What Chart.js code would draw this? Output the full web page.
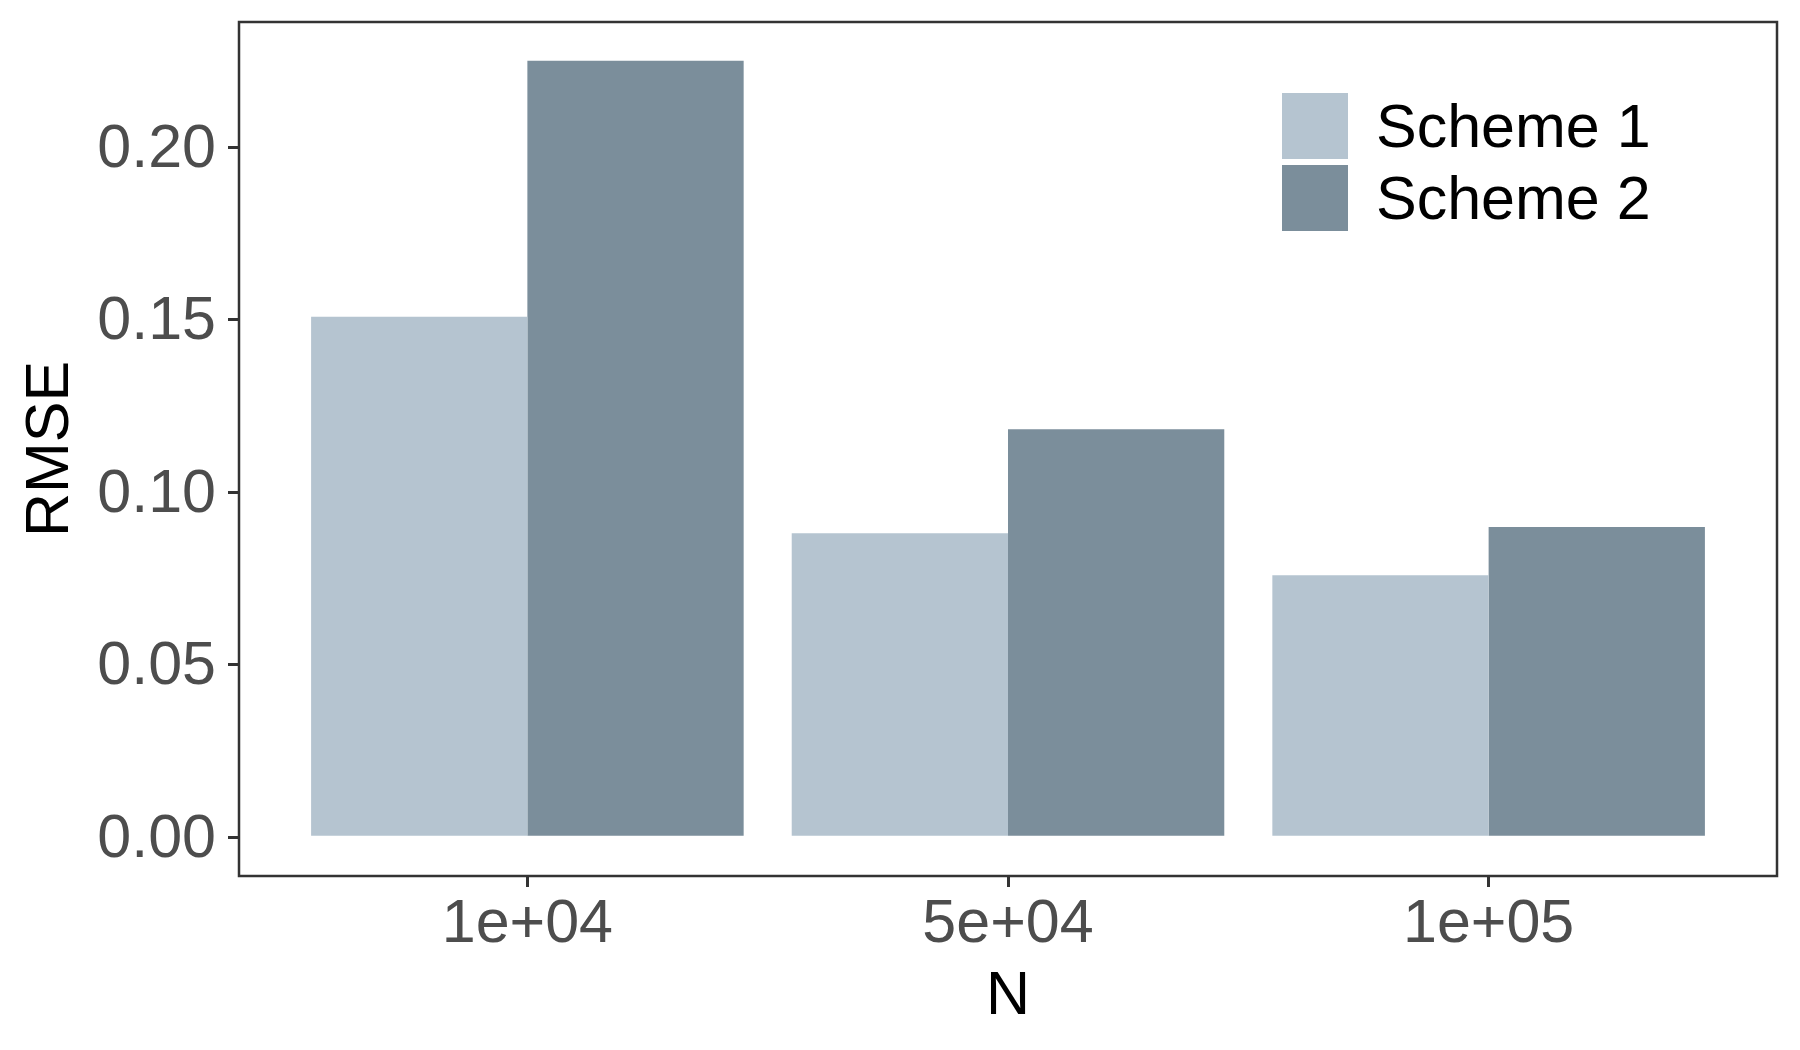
<!DOCTYPE html>
<html>
<head>
<meta charset="utf-8">
<script src="https://cdn.jsdelivr.net/npm/chart.js@4/dist/chart.umd.min.js"></script>
<style>
  html, body { margin: 0; padding: 0; background: #ffffff; }
  #wrap { width: 1800px; height: 1050px; }
</style>
</head>
<body>
<div id="wrap"><canvas id="c" width="1800" height="1050"></canvas></div>
<script>
// ---- data ----
const categories = ["1e+04", "5e+04", "1e+05"];
const seriesNames = ["Scheme 1", "Scheme 2"];
const scheme1 = [0.1508, 0.0881, 0.0759];
const scheme2 = [0.2250, 0.1182, 0.0899];
const yTicks = [0.00, 0.05, 0.10, 0.15, 0.20];
const xTitle = "N";
const yTitle = "RMSE";

// ---- styles ----
const FONT = "Arial, 'Liberation Sans', 'DejaVu Sans', sans-serif";
const FS = 61;
const colors = ["#B5C4D0", "#7B8E9B"];
const axisTextColor = "#4D4D4D";
const lineColor = "#333333";

const catPositions = categories.map((_, i) => i + 1);
const toPoints = arr => arr.map((v, i) => ({ x: catPositions[i], y: v }));

const yMax = Math.max(...scheme1, ...scheme2);
const yPad = yMax * 0.05;

const panelBorder = {
  id: 'panelBorder',
  afterDatasetsDraw(chart) {
    const { ctx, chartArea: a } = chart;
    ctx.save();
    ctx.strokeStyle = lineColor;
    ctx.lineWidth = 2.5;
    ctx.strokeRect(a.left, a.top, a.right - a.left, a.bottom - a.top);
    ctx.restore();
  }
};

const insideLegend = {
  id: 'insideLegend',
  afterDraw(chart) {
    const { ctx } = chart;
    const keyX = 1282, keyTop = 93, keySize = 66, gap = 6, textX = 1376;
    ctx.save();
    ctx.font = FS + "px " + FONT;
    ctx.textBaseline = 'middle';
    ctx.textAlign = 'left';
    chart.data.datasets.forEach((ds, i) => {
      const y = keyTop + i * (keySize + gap);
      ctx.fillStyle = ds.backgroundColor;
      ctx.fillRect(keyX, y, keySize, keySize);
      ctx.fillStyle = '#000000';
      ctx.fillText(ds.label, textX, y + keySize / 2 + 4);
    });
    ctx.restore();
  }
};

function zeroPadding(scale) {
  scale.paddingTop = 0; scale.paddingBottom = 0;
  scale.paddingLeft = 0; scale.paddingRight = 0;
}

new Chart(document.getElementById('c'), {
  type: 'bar',
  data: {
    datasets: [
      { label: seriesNames[0], data: toPoints(scheme1), backgroundColor: colors[0], borderWidth: 0,
        barPercentage: 1, categoryPercentage: 0.9 },
      { label: seriesNames[1], data: toPoints(scheme2), backgroundColor: colors[1], borderWidth: 0,
        barPercentage: 1, categoryPercentage: 0.9 }
    ]
  },
  options: {
    responsive: false,
    devicePixelRatio: 1,
    animation: false,
    layout: { padding: { left: 0, right: 23, top: 22, bottom: 0 } },
    plugins: { legend: { display: false }, tooltip: { enabled: false } },
    scales: {
      x: {
        type: 'linear',
        offset: false,
        min: 0.4,
        max: 3.6,
        afterFit(scale) { scale.height = 174; zeroPadding(scale); },
        afterBuildTicks(scale) { scale.ticks = catPositions.map(v => ({ value: v })); },
        grid: { display: true, offset: false, drawOnChartArea: false, drawTicks: true,
                tickLength: 11, color: lineColor, lineWidth: 3 },
        border: { display: false },
        ticks: {
          autoSkip: false, maxRotation: 0, minRotation: 0, padding: 2,
          color: axisTextColor,
          font: { family: FONT, size: FS, lineHeight: 1.2 },
          callback: (v) => { const i = catPositions.indexOf(v); return i >= 0 ? categories[i] : ''; }
        },
        title: { display: true, text: xTitle, color: '#000000',
                 font: { family: FONT, size: FS, lineHeight: 1.2 },
                 padding: { top: 0, bottom: 16 } }
      },
      y: {
        type: 'linear',
        min: -yPad,
        max: yMax + yPad,
        afterFit(scale) { scale.width = 239; zeroPadding(scale); },
        afterBuildTicks(scale) { scale.ticks = yTicks.map(v => ({ value: v })); },
        grid: { display: true, drawOnChartArea: false, drawTicks: true,
                tickLength: 11, color: lineColor, lineWidth: 3 },
        border: { display: false },
        ticks: {
          padding: 12, labelOffset: 3,
          color: axisTextColor,
          font: { family: FONT, size: FS, lineHeight: 1.2 },
          callback: (v) => Number(v).toFixed(2)
        },
        title: { display: true, text: yTitle, color: '#000000',
                 font: { family: FONT, size: FS, lineHeight: 1.2 },
                 padding: { top: 15, bottom: 0 } }
      }
    }
  },
  plugins: [panelBorder, insideLegend]
});
</script>
</body>
</html>
